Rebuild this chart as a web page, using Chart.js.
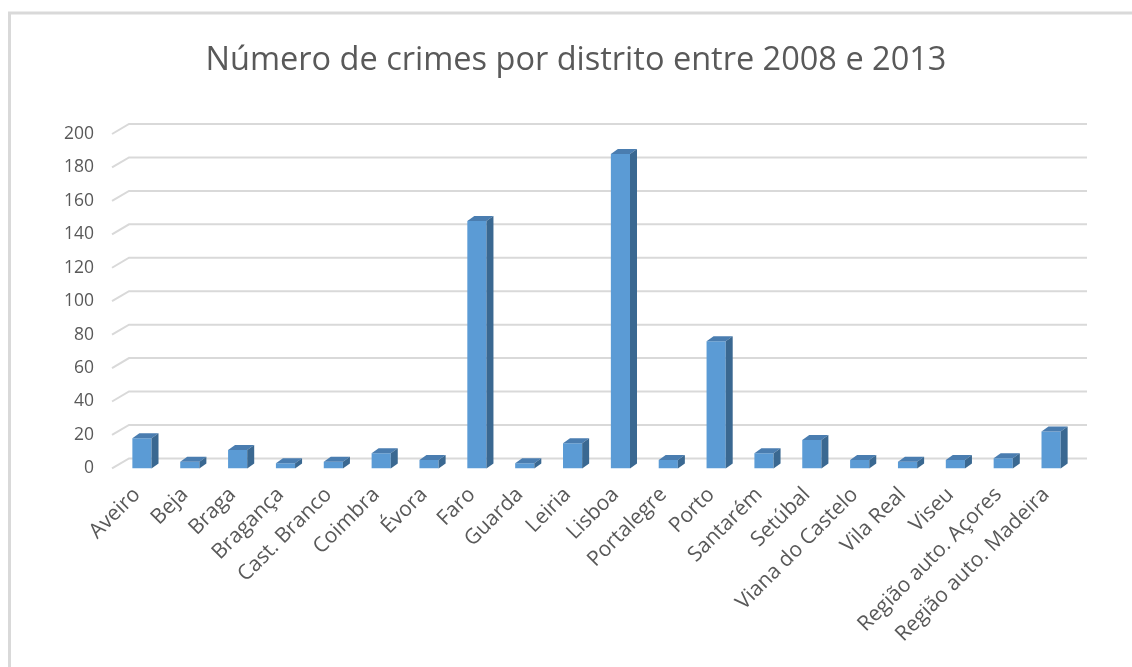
<!DOCTYPE html>
<html>
<head>
<meta charset="utf-8">
<script src="https://cdn.jsdelivr.net/npm/chart.js@4/dist/chart.umd.min.js"></script>
<style>
  html, body { margin: 0; padding: 0; background: #fff; }
  #wrap { width: 1132px; height: 667px; position: relative; }
</style>
</head>
<body>
<div id="wrap"><canvas id="c" width="1132" height="667"></canvas></div>
<script>
const chartTitle = "Número de crimes por distrito entre 2008 e 2013";
const districts = ["Aveiro","Beja","Braga","Bragança","Cast. Branco","Coimbra","Évora","Faro","Guarda","Leiria","Lisboa","Portalegre","Porto","Santarém","Setúbal","Viana do Castelo","Vila Real","Viseu","Região auto. Açores","Região auto. Madeira"];
const crimes = [18, 4, 11, 3, 4, 9, 5, 148, 3, 15, 188, 5, 76, 9, 17, 5, 4, 5, 6, 22];
const yTicks = [0, 20, 40, 60, 80, 100, 120, 140, 160, 180, 200];

const FONT = "'Open Sans', 'DejaVu Sans', sans-serif";
const TEXT = "#595959";

const frame = {
  id: 'frame',
  beforeDraw(chart) {
    const ctx = chart.ctx;
    ctx.save();
    ctx.fillStyle = '#fff';
    ctx.fillRect(0, 0, chart.width, chart.height);
    ctx.strokeStyle = '#d9d9d9';
    ctx.lineWidth = 3;
    ctx.beginPath();
    ctx.moveTo(9.5, chart.height);
    ctx.lineTo(9.5, 13);
    ctx.lineTo(chart.width, 13);
    ctx.stroke();
    ctx.fillStyle = TEXT;
    ctx.font = "32.5px " + FONT;
    ctx.textAlign = 'center';
    ctx.textBaseline = 'middle';
    ctx.fillText(chartTitle, 576, 61);
    ctx.restore();
  }
};

const wallGrid = {
  id: 'wallGrid',
  beforeDatasetsDraw(chart) {
    const ctx = chart.ctx, y = chart.scales.y, a = chart.chartArea;
    ctx.save();
    ctx.strokeStyle = '#d9d9d9';
    ctx.lineWidth = 2;
    yTicks.forEach(v => {
      const py = y.getPixelForValue(v);
      ctx.beginPath();
      ctx.moveTo(a.left - 6, py);
      ctx.lineTo(a.left + 11, py - 10);
      ctx.lineTo(a.right + 12, py - 10);
      ctx.stroke();
    });
    ctx.restore();
  }
};

const bars3d = {
  id: 'bars3d',
  afterDatasetsDraw(chart) {
    const ctx = chart.ctx;
    const meta = chart.getDatasetMeta(0);
    const dx = 7, dy = 5;
    ctx.save();
    meta.data.forEach(bar => {
      const p = bar.getProps(['x', 'y', 'base', 'width'], true);
      const l = p.x - p.width / 2, r = p.x + p.width / 2;
      ctx.fillStyle = '#4a7db0';
      ctx.beginPath();
      ctx.moveTo(l, p.y);
      ctx.lineTo(l + dx, p.y - dy);
      ctx.lineTo(r + dx, p.y - dy);
      ctx.lineTo(r, p.y);
      ctx.closePath();
      ctx.fill();
      ctx.fillStyle = '#3a6891';
      ctx.beginPath();
      ctx.moveTo(r, p.y);
      ctx.lineTo(r + dx, p.y - dy);
      ctx.lineTo(r + dx, p.base - dy);
      ctx.lineTo(r, p.base);
      ctx.closePath();
      ctx.fill();
    });
    ctx.restore();
  }
};

new Chart(document.getElementById('c'), {
  type: 'bar',
  data: {
    labels: districts,
    datasets: [{
      data: crimes,
      backgroundColor: '#5b9bd5',
      borderWidth: 0,
      categoryPercentage: 1,
      barPercentage: 0.4
    }]
  },
  options: {
    responsive: false,
    animation: false,
    events: [],
    layout: { padding: { left: 40, right: 57, top: 134, bottom: 6 } },
    plugins: {
      legend: { display: false },
      tooltip: { enabled: false },
      title: { display: false }
    },
    scales: {
      x: {
        grid: { display: false, drawTicks: false },
        border: { display: false },
        ticks: {
          color: TEXT,
          font: { family: FONT, size: 21 },
          minRotation: 45,
          maxRotation: 45,
          autoSkip: false,
          padding: 14,
          labelOffset: -5
        }
      },
      y: {
        min: 0,
        max: 200,
        grid: { display: false, drawTicks: false },
        border: { display: false },
        afterBuildTicks(scale) { scale.ticks = yTicks.map(v => ({ value: v })); },
        ticks: {
          color: TEXT,
          font: { family: FONT, size: 17.5 },
          padding: 24
        }
      }
    }
  },
  plugins: [frame, wallGrid, bars3d]
});
</script>
</body>
</html>
